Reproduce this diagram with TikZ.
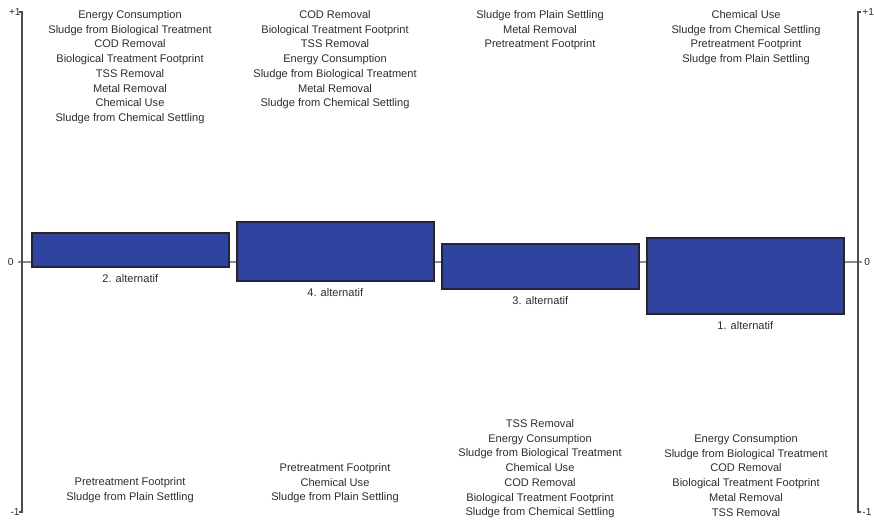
\documentclass[tikz,border=0pt]{standalone}
\usepackage{fontspec}
\setmainfont{Liberation Sans}
\usetikzlibrary{positioning}
\definecolor{barblue}{RGB}{46,68,160}
\definecolor{txtgray}{RGB}{45,45,45}

\begin{document}
\begin{tikzpicture}[
  x=0.02cm, y=-0.02cm,
  font=\fontsize{6.3}{8.4}\selectfont, text=txtgray,
  bar/.style={draw=black!85, line width=0.9pt, fill=barblue,
              minimum width=3.94cm, anchor=north west, inner sep=0pt},
  crit/.style={align=center, inner sep=0pt},
  altlbl/.style={inner sep=0pt},
  axis/.style={draw=black!70, line width=0.8pt},
  zeroline/.style={draw=black!45, line width=0.6pt},
  tick/.style={inner sep=0pt, font=\fontsize{5.8}{7}\selectfont},
  node distance=0.13cm
]
\useasboundingbox (0,0) rectangle (874,521);
% axes
\coordinate (lt) at (22,12);  \coordinate (lb) at (22,512);
\coordinate (rt) at (858,12); \coordinate (rb) at (858,512);
\coordinate (z0) at (18,262); \coordinate (z1) at (862,262);
\draw[zeroline] (z0) -- (z1);
\draw[axis] ([xshift=-0.06cm]lt) -- (lt) -- (lb) -- ([xshift=-0.06cm]lb);
\draw[axis] ([xshift=0.06cm]rt) -- (rt) -- (rb) -- ([xshift=0.06cm]rb);
\node[tick, left=0.02cm of lt]   {+1};
\node[tick, left=0.08cm of z0]   {0};
\node[tick, left=0.04cm of lb]   {-1};
\node[tick, right=0.08cm of rt]  {+1};
\node[tick, right=0.04cm of z1]  {0};
\node[tick, right=0.08cm of rb]  {-1};
% bars
\node[bar, minimum height=0.68cm] (alt2) at (31,232)  {};
\node[bar, minimum height=1.19cm] (alt4) at (236,221) {};
\node[bar, minimum height=0.91cm] (alt3) at (441,243) {};
\node[bar, minimum height=1.53cm] (alt1) at (646,237) {};
\node[altlbl, below=of alt2] (lbl2) {2. alternatif};
\node[altlbl, below=of alt4] (lbl4) {4. alternatif};
\node[altlbl, below=of alt3] (lbl3) {3. alternatif};
\node[altlbl, below=of alt1] (lbl1) {1. alternatif};
% criteria above
\node[crit, anchor=north] (up2) at (130,10)
  {Energy Consumption\\Sludge from Biological Treatment\\COD Removal\\
   Biological Treatment Footprint\\TSS Removal\\Metal Removal\\Chemical Use\\
   Sludge from Chemical Settling};
\node[crit, anchor=north] (up4) at (335,10)
  {COD Removal\\Biological Treatment Footprint\\TSS Removal\\Energy Consumption\\
   Sludge from Biological Treatment\\Metal Removal\\Sludge from Chemical Settling};
\node[crit, anchor=north] (up3) at (540,10)
  {Sludge from Plain Settling\\Metal Removal\\Pretreatment Footprint};
\node[crit, anchor=north] (up1) at (746,10)
  {Chemical Use\\Sludge from Chemical Settling\\Pretreatment Footprint\\
   Sludge from Plain Settling};
% criteria below
\node[crit, anchor=north] (dn2) at (130,477)
  {Pretreatment Footprint\\Sludge from Plain Settling};
\node[crit, anchor=north] (dn4) at (335,463)
  {Pretreatment Footprint\\Chemical Use\\Sludge from Plain Settling};
\node[crit, anchor=north] (dn3) at (540,419)
  {TSS Removal\\Energy Consumption\\Sludge from Biological Treatment\\Chemical Use\\
   COD Removal\\Biological Treatment Footprint\\Sludge from Chemical Settling};
\node[crit, anchor=north] (dn1) at (746,434)
  {Energy Consumption\\Sludge from Biological Treatment\\COD Removal\\
   Biological Treatment Footprint\\Metal Removal\\TSS Removal};
\end{tikzpicture}
\end{document}
